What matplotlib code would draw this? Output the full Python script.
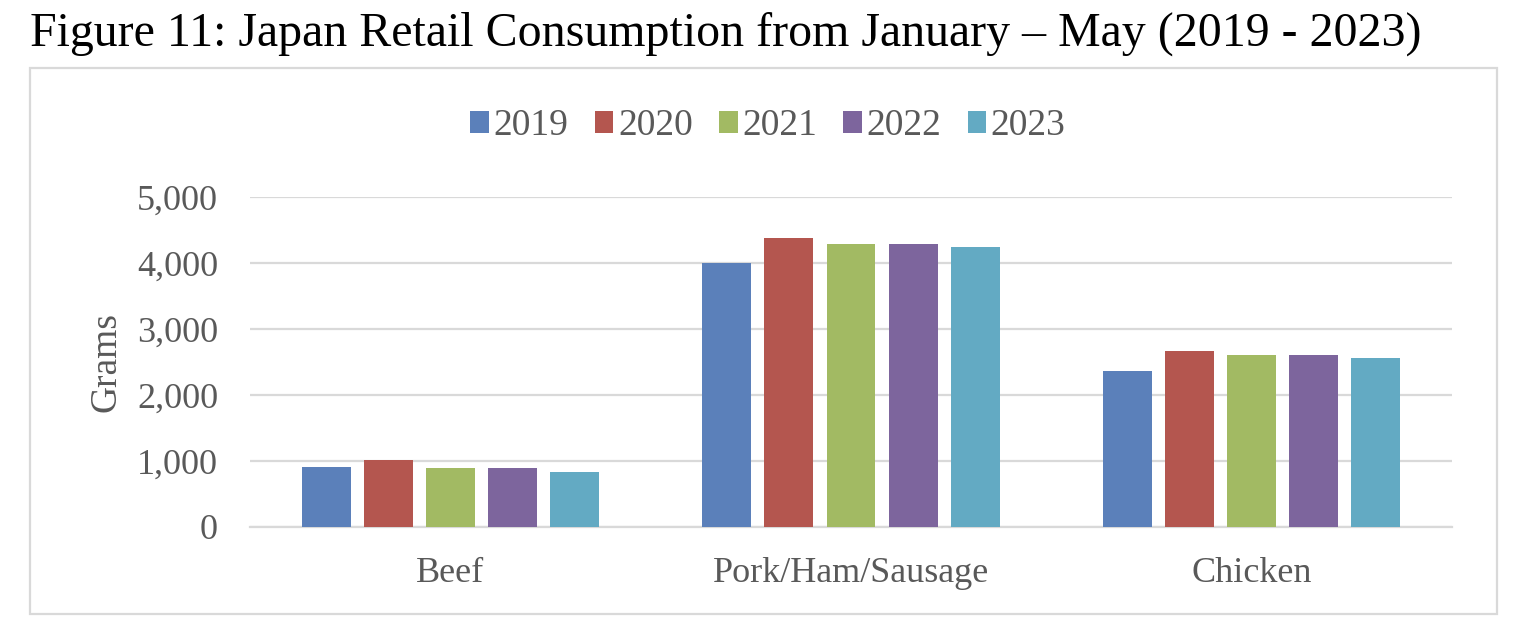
import matplotlib.pyplot as plt
import numpy as np
from matplotlib.patches import Rectangle, Patch

# values (grams)
categories = ['Beef', 'Pork/Ham/Sausage', 'Chicken']
years = ['2019', '2020', '2021', '2022', '2023']
beef = [900, 1010, 885, 885, 825]
pork = [4010, 4380, 4290, 4290, 4245]
chicken = [2365, 2660, 2600, 2600, 2560]
colors = ['#5B80BA', '#B4564F', '#A2BA63', '#7D659D', '#63AAC3']

plt.rcParams['font.family'] = ['Liberation Serif', 'DejaVu Serif']
grey = '#595959'

W, H = 1530, 636
fig = plt.figure(figsize=(W / 100, H / 100), dpi=100)

# outer chart frame
fig.patches.append(Rectangle((30 / W, 1 - 614 / H), 1467 / W, 546 / H,
                             transform=fig.transFigure, fill=False,
                             edgecolor='#D9D9D9', linewidth=1.6))

fig.text(30 / W, 1 - 34 / H, 'Figure 11: Japan Retail Consumption from January \u2013 May (2019 - 2023)',
         fontsize=34.5, va='center', ha='left', color='black')

ax = fig.add_axes([250 / W, 1 - 526.7 / H, 1202 / W, 329.4 / H])

vals = np.array([beef, pork, chicken])  # rows = categories
x = np.arange(len(categories))
step = 0.155
width = 0.122
for i, yr in enumerate(years):
    ax.bar(x + (i - 2) * step, vals[:, i], width=width, color=colors[i], zorder=3)

ax.set_xlim(-0.5, 2.5)
ax.set_ylim(0, 5000)
ax.set_yticks(range(0, 5001, 1000))
ax.set_yticklabels([f'{v:,}' for v in range(0, 5001, 1000)])
ax.set_xticks(x)
ax.set_xticklabels(categories)
ax.tick_params(axis='both', length=0, labelsize=26, labelcolor=grey)
ax.tick_params(axis='x', pad=22)
ax.tick_params(axis='y', pad=23)
ax.yaxis.grid(True, color='#D9D9D9', linewidth=1.6, zorder=0)
for s in ['top', 'right', 'left']:
    ax.spines[s].set_visible(False)
ax.spines['bottom'].set_color('#D9D9D9')
ax.spines['bottom'].set_linewidth(1.6)
ax.set_ylabel('Grams', fontsize=27, color=grey, labelpad=10)

handles = [Patch(facecolor=c) for c in colors]
fig.legend(handles, years, loc='center', bbox_to_anchor=(768 / W, 1 - 126 / H),
           ncol=5, frameon=False, fontsize=27, labelcolor=grey,
           handlelength=0.5, handleheight=0.5, handletextpad=0.12,
           columnspacing=0.7)

fig.savefig('out.png', dpi=100)
